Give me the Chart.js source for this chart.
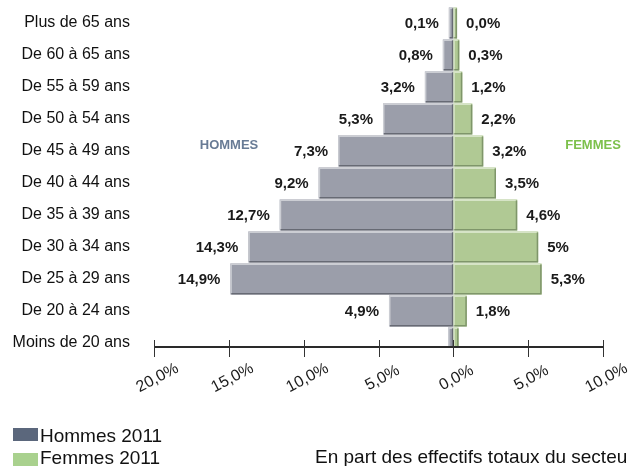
<!DOCTYPE html>
<html>
<head>
<meta charset="utf-8">
<script src="https://cdn.jsdelivr.net/npm/chart.js@4"></script>
<style>
  body { margin: 0; background: #fff; }
  canvas { display: block; }
</style>
</head>
<body>
<canvas id="pyramid" width="628" height="466"></canvas>
<script>
// Age groups, top to bottom
const categories = [
  'Plus de 65 ans', 'De 60 à 65 ans', 'De 55 à 59 ans', 'De 50 à 54 ans',
  'De 45 à 49 ans', 'De 40 à 44 ans', 'De 35 à 39 ans', 'De 30 à 34 ans',
  'De 25 à 29 ans', 'De 20 à 24 ans', 'Moins de 20 ans'
];

// Bar lengths (%) as drawn in the picture
const hommes = [0.3, 0.7, 1.9, 4.7, 7.7, 9.0, 11.6, 13.7, 14.9, 4.3, 0.35];
const femmes = [0.25, 0.4, 0.6, 1.27, 2.0, 2.85, 4.27, 5.67, 5.9, 0.9, 0.35];

// Printed value labels
const hommesLabels = ['0,1%', '0,8%', '3,2%', '5,3%', '7,3%', '9,2%', '12,7%', '14,3%', '14,9%', '4,9%', ''];
const femmesLabels = ['0,0%', '0,3%', '1,2%', '2,2%', '3,2%', '3,5%', '4,6%', '5%', '5,3%', '1,8%', ''];

// x axis ticks
const xTicks = [-20, -15, -10, -5, 0, 5, 10];
const xTickLabels = ['20,0%', '15,0%', '10,0%', '5,0%', '0,0%', '5,0%', '10,0%'];

const FONT = "'Liberation Sans', Arial, Helvetica, sans-serif";

const maleColors = { fill: '#9b9eaa', light: '#cbcdd3', dark: '#676a74' };
const femaleColors = { fill: '#b0c994', light: '#d6e4c6', dark: '#7f966a' };

const pyramidPlugin = {
  id: 'pyramid',
  afterDatasetsDraw(chart) {
    const ctx = chart.ctx;
    const area = chart.chartArea;
    const axisY = area.bottom - 12;
    const xScale = chart.scales.x;

    // bevel edges on bars
    ctx.save();
    ctx.beginPath();
    ctx.rect(area.left, area.top, area.right - area.left, axisY - area.top);
    ctx.clip();
    chart.data.datasets.forEach((ds, di) => {
      const cols = di === 0 ? maleColors : femaleColors;
      chart.getDatasetMeta(di).data.forEach(bar => {
        const l = Math.min(bar.x, bar.base), r = Math.max(bar.x, bar.base);
        const t = bar.y - bar.height / 2, b = bar.y + bar.height / 2;
        ctx.lineWidth = 1.5;
        ctx.strokeStyle = cols.light;
        ctx.beginPath();
        ctx.moveTo(l + 0.75, b - 1);
        ctx.lineTo(l + 0.75, t + 0.75);
        ctx.lineTo(r - 1, t + 0.75);
        ctx.stroke();
        ctx.strokeStyle = cols.dark;
        ctx.beginPath();
        ctx.moveTo(r - 0.75, t + 1);
        ctx.lineTo(r - 0.75, b - 0.75);
        ctx.lineTo(l + 1, b - 0.75);
        ctx.stroke();
      });
    });
    ctx.restore();

    // value labels
    ctx.save();
    ctx.font = 'bold 15px ' + FONT;
    ctx.fillStyle = '#1a1a1a';
    ctx.textBaseline = 'middle';
    const maleMeta = chart.getDatasetMeta(0).data;
    const femaleMeta = chart.getDatasetMeta(1).data;
    hommesLabels.forEach((txt, i) => {
      if (!txt) return;
      const bar = maleMeta[i];
      ctx.textAlign = 'right';
      ctx.fillText(txt, Math.min(bar.x, bar.base) - 10, bar.y + 1);
    });
    femmesLabels.forEach((txt, i) => {
      if (!txt) return;
      const bar = femaleMeta[i];
      ctx.textAlign = 'left';
      ctx.fillText(txt, Math.max(bar.x, bar.base) + 9, bar.y + 1);
    });

    // side titles
    ctx.font = 'bold 13px ' + FONT;
    ctx.textAlign = 'center';
    ctx.fillStyle = '#687b95';
    ctx.fillText('HOMMES', 229, 145);
    ctx.fillStyle = '#7cc04b';
    ctx.fillText('FEMMES', 593, 145);
    ctx.restore();

    // x axis
    ctx.save();
    ctx.strokeStyle = '#2a2a2a';
    ctx.lineWidth = 2;
    ctx.beginPath();
    ctx.moveTo(xScale.getPixelForValue(xTicks[0]), axisY);
    ctx.lineTo(xScale.getPixelForValue(xTicks[xTicks.length - 1]), axisY);
    ctx.stroke();
    ctx.lineWidth = 1;
    ctx.strokeStyle = '#333';
    ctx.font = '16px ' + FONT;
    ctx.fillStyle = '#1a1a1a';
    ctx.textAlign = 'center';
    ctx.textBaseline = 'middle';
    xTicks.forEach((v, i) => {
      const px = Math.round(xScale.getPixelForValue(v)) + 0.5;
      ctx.beginPath();
      ctx.moveTo(px, axisY - 7);
      ctx.lineTo(px, axisY + 10);
      ctx.stroke();
      ctx.save();
      ctx.translate(px + 3, axisY + 31);
      ctx.rotate(-28 * Math.PI / 180);
      ctx.fillText(xTickLabels[i], 0, 0);
      ctx.restore();
    });
    ctx.restore();

    // legend + caption
    ctx.save();
    ctx.fillStyle = '#5b677c';
    ctx.fillRect(13, 428, 25, 13);
    ctx.fillStyle = '#a9d18e';
    ctx.fillRect(13, 453, 25, 13);
    ctx.fillStyle = '#111';
    ctx.font = '19px ' + FONT;
    ctx.textAlign = 'left';
    ctx.textBaseline = 'alphabetic';
    ctx.fillText('Hommes 2011', 40, 442);
    ctx.fillText('Femmes 2011', 40, 464);
    ctx.fillText('En part des effectifs totaux du secteur', 315, 463);
    ctx.restore();
  }
};

const barClip = { left: 0, top: 0, right: 0, bottom: -12 };

new Chart(document.getElementById('pyramid').getContext('2d'), {
  type: 'bar',
  data: {
    labels: categories,
    datasets: [
      {
        label: 'Hommes 2011',
        data: hommes.map(v => -v),
        backgroundColor: maleColors.fill,
        barPercentage: 0.97,
        categoryPercentage: 1,
        clip: barClip
      },
      {
        label: 'Femmes 2011',
        data: femmes,
        backgroundColor: femaleColors.fill,
        barPercentage: 0.97,
        categoryPercentage: 1,
        clip: barClip
      }
    ]
  },
  options: {
    indexAxis: 'y',
    responsive: false,
    animation: false,
    layout: { padding: { top: 7, right: 25, bottom: 107, left: 0 } },
    plugins: {
      legend: { display: false },
      tooltip: { enabled: false }
    },
    scales: {
      x: {
        type: 'linear',
        min: xTicks[0],
        max: xTicks[xTicks.length - 1],
        stacked: true,
        display: false
      },
      y: {
        stacked: true,
        grid: { display: false, drawTicks: false },
        border: { display: false },
        ticks: {
          color: '#111',
          font: { family: FONT, size: 16 },
          padding: 24
        },
        afterFit(scale) {
          // fixed label column, no extra vertical padding from tick labels
          scale.width = 154;
          scale.paddingTop = 0;
          scale.paddingBottom = 0;
        }
      }
    }
  },
  plugins: [pyramidPlugin]
});
</script>
</body>
</html>
